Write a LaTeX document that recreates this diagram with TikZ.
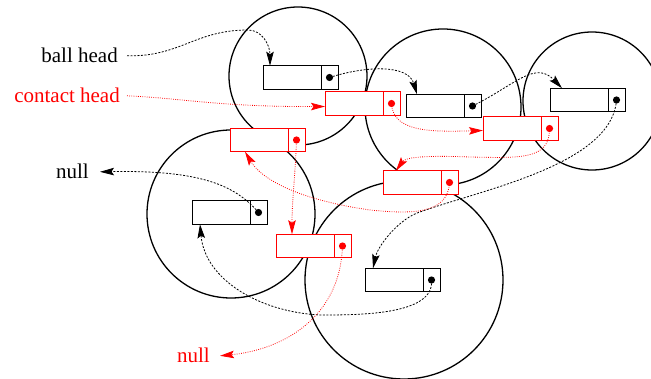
\documentclass[tikz,border=0pt]{standalone}
\usepackage{fontspec}
\setmainfont{Liberation Serif}
\usetikzlibrary{arrows.meta,calc}
\newcommand{\listbox}[4]{%
  \node[cellmain,draw=#2] (#1) at (#3,#4) {};
  \node[cellptr,draw=#2] (#1p) at (#1.east) {};
  \node[ptrdot,fill=#2] (#1d) at (#1p.center) {};}
\begin{document}
\begin{tikzpicture}[x=1pt,y=-1pt,
  ball/.style={circle,draw=black,line width=1.3pt,inner sep=0pt,outer sep=0pt},
  cellmain/.style={rectangle,fill=white,line width=1pt,minimum width=58pt,minimum height=23.5pt,inner sep=0pt,outer sep=0pt,anchor=west},
  cellptr/.style={rectangle,fill=white,line width=1pt,minimum width=17pt,minimum height=23.5pt,inner sep=0pt,outer sep=0pt,anchor=west},
  ptrdot/.style={circle,inner sep=0pt,minimum size=7.2pt},
  tipa/.style={-{Stealth[length=14pt,width=7.5pt,inset=2.5pt]}},
  blink/.style={black,line width=0.8pt,dash pattern=on 2pt off 1.5pt,tipa},
  rlink/.style={red,line width=0.8pt,dash pattern=on 0.8pt off 1.4pt,tipa},
  lbl/.style={font=\fontsize{21}{25}\selectfont,inner ysep=0pt,anchor=base east}
]
\useasboundingbox (0,0) rectangle (651,379);
% balls
\node[ball,minimum size=138pt] (c1) at (298,76) {};
\node[ball,minimum size=156pt] (c2) at (443,107) {};
\node[ball,minimum size=138pt] (c3) at (592,101) {};
\node[ball,minimum size=168pt] (c4) at (231,214) {};
\node[ball,minimum size=198pt] (c5) at (404,280) {};
% boxes
\listbox{bA}{black}{263}{77.5}
\listbox{rA}{red}{325}{103.5}
\listbox{bB}{black}{406}{106}
\listbox{bC}{black}{550}{100}
\listbox{rB}{red}{483}{128.5}
\listbox{rC}{red}{383}{182.5}
\listbox{rD}{red}{230}{140}
\listbox{bD}{black}{192}{212.5}
\listbox{rE}{red}{276}{246}
\listbox{bE}{black}{365}{280}
% labels
\node[lbl,inner xsep=9pt] (bh) at (127,63) {ball head};
\node[lbl,inner xsep=7pt,text=red] (ch) at (127,103) {contact head};
\node[lbl,inner xsep=11pt] (nb) at (100,179) {null};
\node[lbl,inner xsep=10pt,text=red] (nr) at (220,363) {null};
% black links
\draw[blink] (bh.east) .. controls (180,57) and (195,30) .. (248,30)
  .. controls (262,30) and (270,45) .. ([xshift=7pt]bA.north west);
\draw[blink] (bAd.center) .. controls (365,66) and (408,64) .. ([xshift=11pt]bB.north west);
\draw[blink] (bBd.center) .. controls (515,85) and (535,60) .. ([xshift=12pt]bC.north west);
\draw[blink] (bCd.center) .. controls (612,165) and (480,190) .. (420,212)
  .. controls (400,218) and (378,245) .. ([xshift=8pt]bE.north west);
\draw[blink] (bEd.center) .. controls (435,315) and (360,315) .. (320,315)
  .. controls (260,312) and (205,280) .. ([xshift=8pt]bD.south west);
\draw[blink] (bDd.center) .. controls (235,185) and (200,170) .. (nb.east);
% red links
\draw[rlink] (ch.east) .. controls (180,98) and (220,107) .. ([yshift=-3pt]rA.west);
\draw[rlink] (rAd.center) .. controls (393,132) and (430,132) .. ([yshift=-2pt]rB.west);
\draw[rlink] (rBd.center) .. controls (550,160) and (520,158) .. (470,157)
  .. controls (420,155) and (405,158) .. ([xshift=13pt]rC.north west);
\draw[rlink] (rCd.center) .. controls (448,215) and (410,214) .. (370,210)
  .. controls (300,200) and (262,180) .. ([xshift=15pt]rD.south west);
\draw[rlink] (rDd.center) .. controls (295,180) and (292,200) .. ([xshift=16pt]rE.north west);
\draw[rlink] (rEd.center) .. controls (340,320) and (280,350) .. (nr.east);
\end{tikzpicture}
\end{document}
